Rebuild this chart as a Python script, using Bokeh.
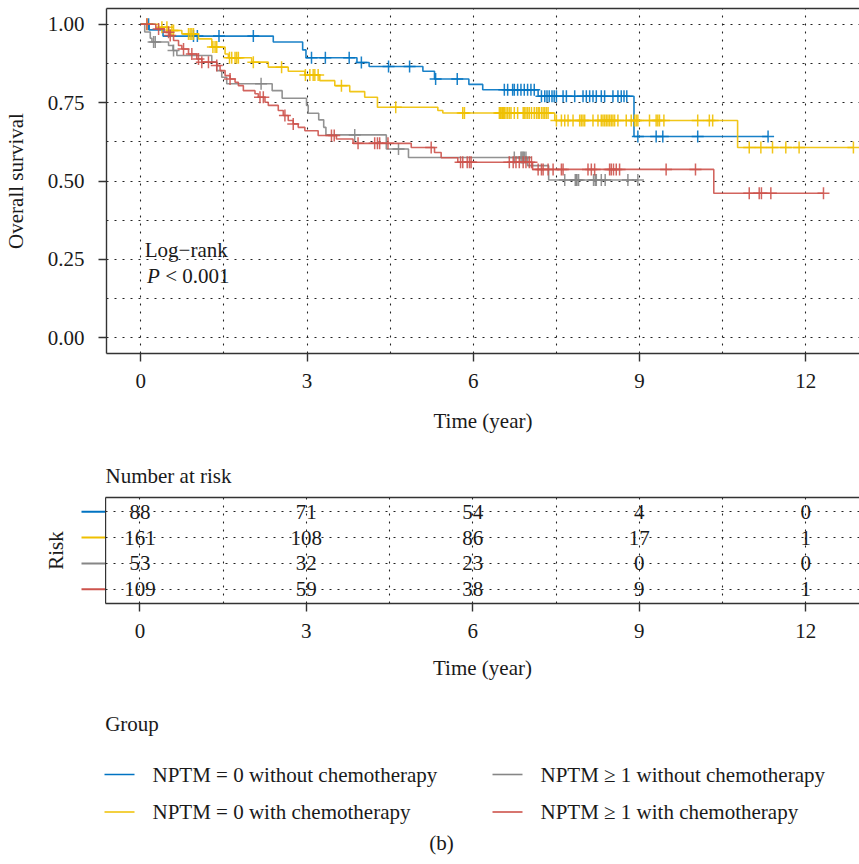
import numpy as np
from bokeh.plotting import figure
from bokeh.layouts import column, row
from bokeh.models import FixedTicker, LinearAxis, NumeralTickFormatter
from bokeh.core.properties import value
from bokeh.embed import file_html
from bokeh.resources import INLINE

FONT = "Liberation Serif"
FS = "21px"
AXIS_COLOR = "#333333"
TXT = "#1a1a1a"

# ---------------- data ----------------
group_labels = ["NPTM = 0 without chemotherapy", "NPTM = 0 with chemotherapy",
                "NPTM \u2265 1 without chemotherapy", "NPTM \u2265 1 with chemotherapy"]
colors = ["#0073C2", "#EFC000", "#868686", "#CD534C"]

# NPTM = 0 without chemotherapy (blue)
blue_t = [0, 0.15, 0.4, 2.39, 2.92, 2.98, 3.9, 4.12, 5.09, 5.3, 5.92, 6.17, 7.17, 8.9]
blue_s = [1.0, 0.982, 0.962, 0.943, 0.918, 0.893, 0.878, 0.865, 0.850, 0.825, 0.808, 0.791, 0.770, 0.642]
blue_cens = [0.14, 0.95, 1.02, 1.41, 2.03, 3.08, 3.33, 3.76, 3.98, 4.47, 4.85, 5.32, 5.71,
             6.56, 6.62, 6.71, 6.74, 6.80, 6.86, 6.92, 6.98, 7.04, 7.10,
             7.23, 7.29, 7.33, 7.37, 7.42, 7.46, 7.50, 7.62, 7.68, 7.83, 7.98, 8.04, 8.10,
             8.16, 8.22, 8.31, 8.37, 8.52, 8.61, 8.67, 8.72, 8.77, 8.97, 9.30, 9.42, 10.05, 11.32]

# NPTM = 0 with chemotherapy (yellow)
yellow_t = [0, 0.32, 0.5, 0.74, 1.04, 1.28, 1.52, 1.58, 2.0, 2.3, 2.66, 2.96, 3.23, 3.5,
            3.77, 4.04, 4.27, 5.36, 5.45, 7.47, 10.77]
yellow_s = [1.0, 0.990, 0.980, 0.969, 0.953, 0.927, 0.905, 0.893, 0.879, 0.863, 0.850, 0.838,
            0.820, 0.804, 0.785, 0.767, 0.735, 0.725, 0.717, 0.693, 0.607]
yellow_cens = [0.11, 0.38, 0.47, 0.56, 0.59, 0.86, 0.89, 0.92, 0.95, 1.30, 1.34, 1.37, 1.60,
               1.64, 1.70, 1.73, 1.76, 2.03, 2.54, 2.97, 3.05, 3.11, 3.14, 3.20, 3.62, 4.60,
               5.81, 5.84, 6.47, 6.49, 6.50, 6.52, 6.53, 6.55, 6.56, 6.59, 6.62, 6.65,
               6.68, 6.74, 6.80, 6.90, 6.92, 6.95, 6.98, 7.01, 7.05, 7.10, 7.14, 7.17, 7.19,
               7.23, 7.26, 7.29, 7.32, 7.35, 7.50, 7.59, 7.65, 7.71, 7.80, 7.92, 7.95, 7.98,
               8.01, 8.16, 8.25, 8.31, 8.34, 8.37, 8.40, 8.43, 8.46, 8.49, 8.52, 8.55, 8.61,
               8.76, 8.85, 8.91, 8.94, 8.97, 9.18, 9.30, 9.33, 9.36, 9.44, 10.05, 10.26,
               10.32, 10.98, 11.19, 11.40, 11.64, 11.88, 12.86]

# NPTM >= 1 without chemotherapy (gray)
gray_t = [0, 0.07, 0.17, 0.2, 0.5, 0.58, 0.65, 1.28, 1.37, 1.46, 1.55, 2.37, 2.55, 2.99,
          3.02, 3.21, 3.30, 3.34, 4.43, 4.83, 6.98, 7.36]
gray_s = [1.0, 0.975, 0.955, 0.943, 0.932, 0.916, 0.900, 0.879, 0.852, 0.831, 0.810, 0.788,
          0.764, 0.741, 0.716, 0.695, 0.671, 0.647, 0.602, 0.575, 0.549, 0.503]
gray_cens = [0.23, 0.26, 0.59, 2.17, 3.86, 4.65, 6.74, 6.86, 6.88, 6.90, 6.92, 6.95,
             7.65, 7.84, 7.86, 7.87, 7.90, 8.17, 8.20, 8.22, 8.31, 8.38, 8.79, 8.97]

# NPTM >= 1 with chemotherapy (red)
red_t = [0, 0.27, 0.43, 0.52, 0.59, 0.68, 0.74, 0.86, 1.01, 1.10, 1.37, 1.43, 1.52, 1.61,
         1.70, 1.76, 1.85, 2.06, 2.12, 2.24, 2.30, 2.48, 2.57, 2.66, 2.75, 2.84, 2.96, 3.20,
         3.53, 3.83, 4.88, 5.30, 5.42, 5.72, 7.07, 10.34]
red_s = [1.0, 0.985, 0.974, 0.964, 0.948, 0.932, 0.921, 0.905, 0.889, 0.879, 0.868, 0.852,
         0.836, 0.825, 0.815, 0.804, 0.788, 0.778, 0.767, 0.751, 0.741, 0.725, 0.709, 0.693,
         0.682, 0.671, 0.660, 0.645, 0.634, 0.620, 0.607, 0.591, 0.574, 0.560, 0.537, 0.461]
red_cens = [0.11, 0.32, 0.50, 0.53, 0.77, 0.92, 1.04, 1.10, 1.22, 1.37, 1.61, 2.15, 2.21,
            2.60, 2.75, 3.44, 3.49, 3.92, 4.22, 4.27, 4.31, 4.46, 5.24, 5.77, 5.81, 5.89,
            5.93, 5.96, 6.65, 6.72, 6.77, 6.83, 6.90, 6.95, 7.01, 7.05, 7.17, 7.23, 7.26,
            7.35, 7.44, 7.59, 7.62, 8.07, 8.13, 8.19, 8.46, 8.49, 8.53, 8.58, 8.64, 9.48,
            10.01, 10.98, 11.16, 11.20, 11.37, 12.32]

risk_times = [0, 3, 6, 9, 12]
risk_blue = [88, 71, 54, 4, 0]
risk_yellow = [161, 108, 86, 17, 1]
risk_gray = [53, 32, 23, 0, 0]
risk_red = [109, 59, 38, 9, 1]

x_ticks = [0, 3, 6, 9, 12]
y_ticks = [0, 0.25, 0.5, 0.75, 1.0]

groups = [(blue_t, blue_s, blue_cens), (yellow_t, yellow_s, yellow_cens),
          (gray_t, gray_s, gray_cens), (red_t, red_s, red_cens)]
risk_rows = [risk_blue, risk_yellow, risk_gray, risk_red]

# ---------------- layout constants ----------------
W = 859
FRAME_LEFT = 105
X_RANGE = (-0.62, 12.97)
grid_x = list(np.arange(0, 13.0, 1.5))
grid_y = list(np.arange(0, 1.01, 0.125))


def style_axis(ax):
    ax.axis_line_color = AXIS_COLOR
    ax.axis_line_width = 1.4
    ax.major_tick_line_color = AXIS_COLOR
    ax.major_tick_line_width = 1.4
    ax.minor_tick_line_color = None
    ax.major_tick_in = 0
    ax.major_tick_out = 8
    ax.major_label_text_font = FONT
    ax.major_label_text_font_size = FS
    ax.major_label_text_color = TXT
    ax.axis_label_text_font = FONT
    ax.axis_label_text_font_size = FS
    ax.axis_label_text_font_style = "normal"
    ax.axis_label_text_color = TXT


def border_axis():
    return LinearAxis(ticker=FixedTicker(ticks=[]), axis_line_color=AXIS_COLOR,
                      axis_line_width=1.4, major_tick_line_color=None,
                      minor_tick_line_color=None, major_tick_out=0, minor_tick_out=0,
                      major_label_text_font_size="0px", major_label_standoff=0)


def style_grid(fig, gx, gy):
    fig.xgrid.ticker = FixedTicker(ticks=gx)
    fig.ygrid.ticker = FixedTicker(ticks=gy)
    for g in (fig.xgrid[0], fig.ygrid[0]):
        g.grid_line_color = "#222222"
        g.grid_line_width = 1.1
        g.grid_line_dash = "2 6"


def surv_at(times, surv, t):
    idx = np.searchsorted(np.asarray(times), np.asarray(t), side="right") - 1
    return np.asarray(surv)[idx]


# ---------------- main KM plot ----------------
p = figure(width=W, height=440, x_range=X_RANGE, y_range=(-0.05, 1.05),
           output_backend="svg", toolbar_location=None,
           min_border_left=FRAME_LEFT, min_border_right=0, min_border_top=8,
           min_border_bottom=87)
p.outline_line_color = None
p.background_fill_color = "white"
p.border_fill_color = "white"
p.xaxis.ticker = FixedTicker(ticks=x_ticks)
p.yaxis.ticker = FixedTicker(ticks=y_ticks)
p.yaxis.formatter = NumeralTickFormatter(format="0.00")
style_axis(p.xaxis[0])
style_axis(p.yaxis[0])
p.xaxis.axis_label = "Time (year)"
p.yaxis.axis_label = "Overall survival"
p.xaxis.major_label_standoff = 12
p.xaxis.axis_label_standoff = 18
p.yaxis.major_label_standoff = 14
p.yaxis.axis_label_standoff = 17
p.add_layout(border_axis(), "above")
style_grid(p, grid_x, grid_y)

for (t, s, c), col in zip(groups, colors):
    end = max(c[-1], t[-1])
    xs = list(t) + [end]
    ys = list(s) + [s[-1]]
    p.step(xs, ys, mode="after", line_color=col, line_width=1.6, line_alpha=0.9)
    p.scatter(c, surv_at(t, s, c), marker="cross", size=12, line_color=col,
              line_width=1.5, line_alpha=0.9)

p.text(x=[0.07], y=[0.28], text=["Log\u2212rank"], text_font=value(FONT),
       text_font_size=FS, text_baseline="middle", text_align="left", text_color=TXT)
p.text(x=[0.11], y=[0.196], text=["P"], text_font=value(FONT), text_font_style="italic",
       text_font_size=FS, text_baseline="middle", text_align="left", text_color=TXT)
p.text(x=[0.44], y=[0.196], text=["< 0.001"], text_font=value(FONT),
       text_font_size=FS, text_baseline="middle", text_align="left", text_color=TXT)

# ---------------- risk table ----------------
TAB_H = 250
row_y = [4, 3, 2, 1]
Y_TAB = (0.444, 4.556)

left = figure(width=FRAME_LEFT, height=TAB_H, x_range=(0, FRAME_LEFT), y_range=Y_TAB,
              output_backend="svg", toolbar_location=None,
              x_axis_location=None, y_axis_location=None,
              min_border_left=0, min_border_right=0, min_border_top=57, min_border_bottom=87)
left.outline_line_color = None
left.grid.visible = False
for yv, col in zip(row_y, colors):
    left.segment(x0=[81], y0=[yv], x1=[FRAME_LEFT], y1=[yv], line_color=col, line_width=2)
left.text(x=[55], y=[2.5], text=["Risk"], angle=np.pi / 2, text_font=value(FONT),
          text_font_size=FS, text_align="center", text_baseline="middle", text_color=TXT)

tab = figure(width=W - FRAME_LEFT, height=TAB_H, x_range=X_RANGE, y_range=Y_TAB,
             output_backend="svg", toolbar_location=None, title="Number at risk",
             min_border_left=0, min_border_right=0, min_border_top=57, min_border_bottom=87)
tab.outline_line_color = None
tab.title.text_font = FONT
tab.title.text_font_size = FS
tab.title.text_font_style = "normal"
tab.title.align = "left"
tab.title.standoff = 20
tab.title.text_color = TXT
tab.xaxis.ticker = FixedTicker(ticks=x_ticks)
style_axis(tab.xaxis[0])
tab.xaxis.axis_label = "Time (year)"
tab.xaxis.major_label_standoff = 12
tab.xaxis.axis_label_standoff = 15
tab.yaxis.ticker = FixedTicker(ticks=[])
tab.yaxis.axis_line_color = AXIS_COLOR
tab.yaxis.axis_line_width = 1.4
tab.yaxis.major_tick_out = 0
tab.yaxis.minor_tick_out = 0
tab.yaxis.major_label_text_font_size = "0px"
tab.yaxis.major_label_standoff = 0
tab.add_layout(border_axis(), "above")
style_grid(tab, grid_x, row_y)

for yv, counts in zip(row_y, risk_rows):
    tab.text(x=risk_times, y=[yv] * len(risk_times), text=[str(v) for v in counts],
             text_font=value(FONT), text_font_size=FS, text_align="center",
             text_baseline="middle", text_color=TXT)

# ---------------- legend ----------------
LEG_H = 166
leg = figure(width=W, height=LEG_H, x_range=(0, W), y_range=(LEG_H, 0),
             output_backend="svg", toolbar_location=None,
             x_axis_location=None, y_axis_location=None,
             min_border_left=0, min_border_right=0, min_border_top=0, min_border_bottom=0)
leg.outline_line_color = None
leg.grid.visible = False

leg_line_x0 = [104, 104, 492, 492]
leg_text_x = [152, 152, 540, 540]
leg_row_y = [84, 121.5, 84, 121.5]
leg.text(x=[104.7], y=[33], text=["Group"], text_font=value(FONT), text_font_size=FS,
         text_align="left", text_baseline="middle", text_color=TXT)
for x0, tx, yy, lab, col in zip(leg_line_x0, leg_text_x, leg_row_y, group_labels, colors):
    leg.segment(x0=[x0], y0=[yy], x1=[x0 + 30], y1=[yy], line_color=col, line_width=1.6)
    leg.text(x=[tx], y=[yy], text=[lab], text_font=value(FONT), text_font_size=FS,
             text_align="left", text_baseline="middle", text_color=TXT)
leg.text(x=[441], y=[152], text=["(b)"], text_font=value(FONT), text_font_size=FS,
         text_align="center", text_baseline="middle", text_color=TXT)

layout = column(row(p), row(left, tab), row(leg))
open("out.html", "w").write(file_html(layout, INLINE))
